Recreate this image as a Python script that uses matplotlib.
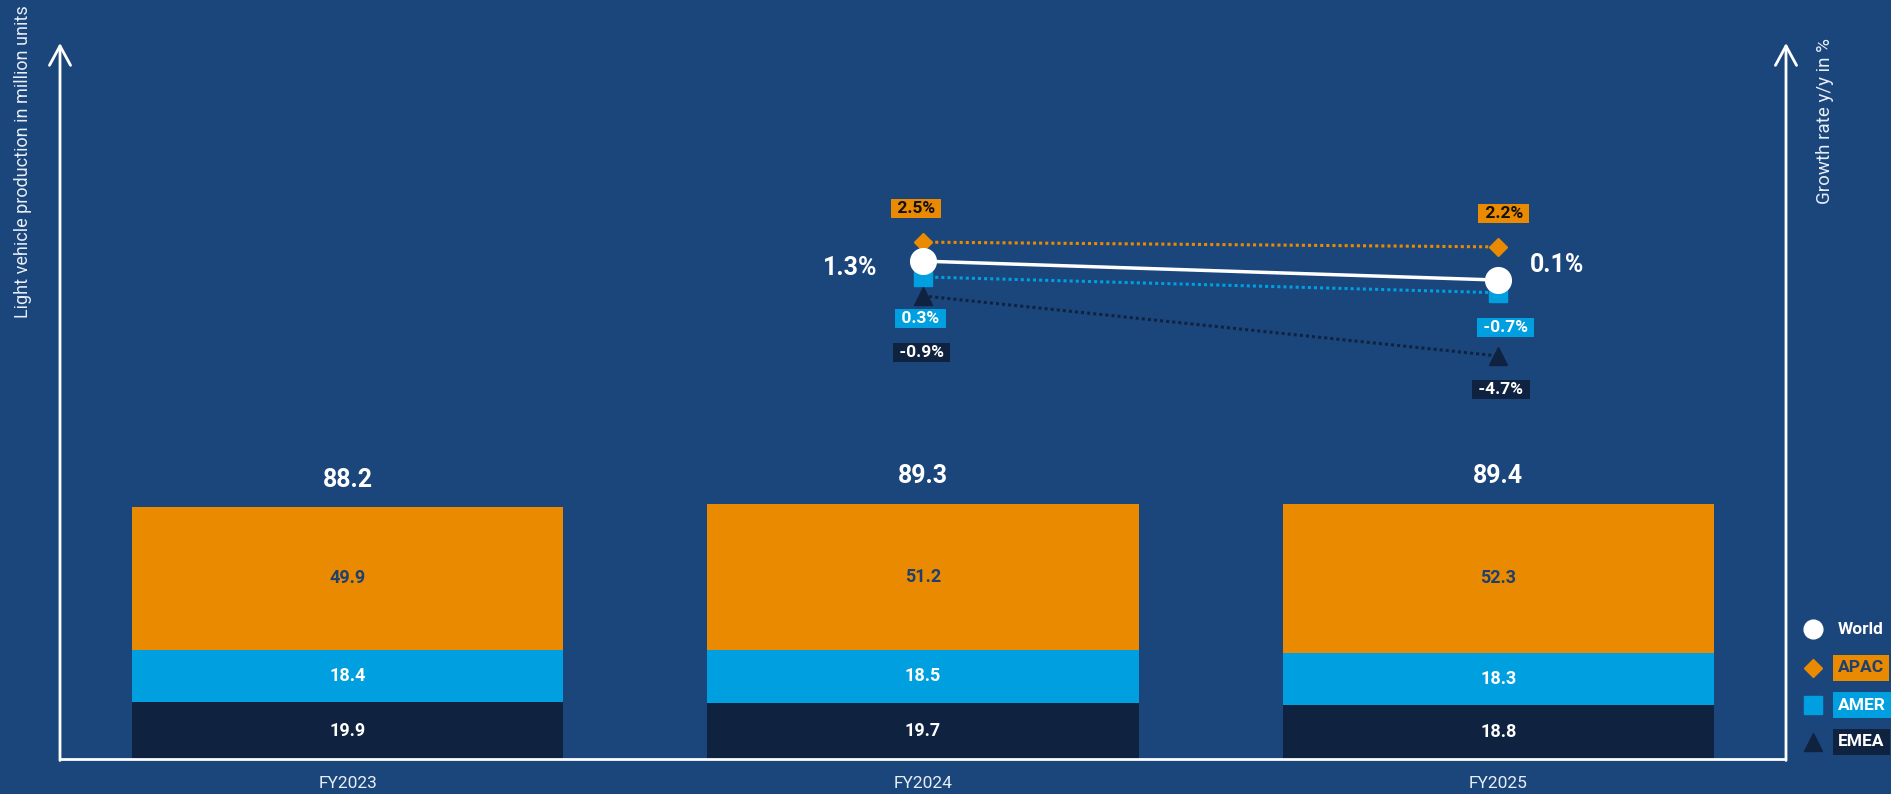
import numpy as np
import matplotlib.pyplot as plt
from matplotlib.lines import Line2D

# production by region, million units
years = ["FY2023", "FY2024", "FY2025"]
emea = [19.9, 19.7, 18.8]
amer = [18.4, 18.5, 18.3]
apac = [49.9, 51.2, 52.3]
totals = [88.2, 89.3, 89.4]

# growth y/y in %, FY2024 and FY2025 only
growth_x = [1, 2]
world_growth = [1.3, 0.1]
apac_growth = [2.5, 2.2]
amer_growth = [0.3, -0.7]
emea_growth = [-0.9, -4.7]

BG = "#1b467c"
ORANGE = "#e98a00"
LIGHTBLUE = "#009fdf"
NAVY = "#0f2340"
DARKTEXT = "#1f3f6e"

plt.rcParams["font.family"] = ["Roboto", "DejaVu Sans"]

W, H = 1891, 794
fig = plt.figure(figsize=(W / 100, H / 100), dpi=100, facecolor=BG)


def fx(px):
    return px / W


def fy(py):
    return 1 - py / H


ax = fig.add_axes([fx(60), fy(759), fx(1786) - fx(60), fy(43) - fy(759)])
ax.set_facecolor("none")

x = np.arange(len(years))
bw = 0.75
b1 = ax.bar(x, emea, bw, color=NAVY)
b2 = ax.bar(x, amer, bw, bottom=emea, color=LIGHTBLUE)
b3 = ax.bar(x, apac, bw, bottom=np.add(emea, amer), color=ORANGE)
ax.set_xlim(-0.5, 2.5)
ax.set_ylim(0, 250.6)

ax.bar_label(b1, labels=[f"{v:.1f}" for v in emea], label_type="center",
             color="white", fontsize=13, fontweight="bold")
ax.bar_label(b2, labels=[f"{v:.1f}" for v in amer], label_type="center",
             color="white", fontsize=13, fontweight="bold")
ax.bar_label(b3, labels=[f"{v:.1f}" for v in apac], label_type="center",
             color=DARKTEXT, fontsize=13, fontweight="bold")
ax.bar_label(b3, labels=[f"{v:.1f}" for v in totals], padding=11,
             color="white", fontsize=18, fontweight="bold")

ax.set_xticks(x, years)
ax.set_yticks([])
ax.tick_params(axis="x", length=0, colors="#e8eef6", labelsize=12.5, pad=12)
for s in ax.spines.values():
    s.set_visible(False)

# axes lines with open arrow heads
arrow = dict(arrowstyle="->,head_length=0.7,head_width=0.38", color="white",
             lw=2, mutation_scale=20, shrinkA=0, shrinkB=0)
ax.annotate("", xy=(0, 1), xytext=(0, -0.002), xycoords="axes fraction",
            arrowprops=arrow, annotation_clip=False)
ax.annotate("", xy=(1, 1), xytext=(1, -0.002), xycoords="axes fraction",
            arrowprops=arrow, annotation_clip=False)
ax.plot([0, 1], [0, 0], transform=ax.transAxes, color="white", lw=2,
        clip_on=False, solid_capstyle="butt")

# growth rates on a second scale
ax2 = ax.twinx()
ax2.set_ylim(-30.2, 15.1)
ax2.set_yticks([])
for s in ax2.spines.values():
    s.set_visible(False)

ax2.plot(growth_x, apac_growth, color=ORANGE, ls=(0, (1, 1)), lw=2.2,
         marker="D", ms=9.5, zorder=3)
ax2.plot(growth_x, amer_growth, color=LIGHTBLUE, ls=(0, (1, 1)), lw=2.2,
         marker="s", ms=13, zorder=3)
ax2.plot(growth_x, emea_growth, color=NAVY, ls=(0, (1, 1)), lw=2.2,
         marker="^", ms=13.5, zorder=3)
ax2.plot(growth_x, world_growth, color="white", lw=2.5,
         marker="o", ms=18.5, zorder=4)

label_specs = [
    (apac_growth, ORANGE, "#111111", [(-5, 24), (4, 24)]),
    (amer_growth, LIGHTBLUE, "white", [(-2, -30), (5, -25)]),
    (emea_growth, NAVY, "white", [(-1, -41), (2, -24)]),
]
for vals, box, txt, offs in label_specs:
    for gx, v, off in zip(growth_x, vals, offs):
        ax2.annotate(f" {v:.1f}% ", (gx, v), xytext=off,
                     textcoords="offset points", ha="center", va="center",
                     fontsize=12.5, fontweight="bold", color=txt,
                     bbox=dict(boxstyle="square,pad=0.12", fc=box, ec="none"))

ax2.annotate(f"{world_growth[0]:.1f}%", (growth_x[0], world_growth[0]),
             xytext=(-33, -5), textcoords="offset points", ha="right",
             va="center", fontsize=18, fontweight="bold", color="white")
ax2.annotate(f"{world_growth[1]:.1f}%", (growth_x[1], world_growth[1]),
             xytext=(23, 11), textcoords="offset points", ha="left",
             va="center", fontsize=18, fontweight="bold", color="white")

# axis titles
fig.text(fx(23), fy(5), "Light vehicle production in million units",
         rotation=90, ha="center", va="top", fontsize=13, color="#e8eef6")
fig.text(fx(1825), fy(38), "Growth rate y/y in %", rotation=90, ha="center",
         va="top", fontsize=13.5, color="#e8eef6")

# legend
legend_items = [
    ("World", "o", "white", None, "white"),
    ("APAC", "D", ORANGE, ORANGE, DARKTEXT),
    ("AMER", "s", LIGHTBLUE, LIGHTBLUE, "white"),
    ("EMEA", "^", NAVY, NAVY, "white"),
]
legend_y = [629, 668, 705, 742]
legend_ms = {"o": 13.5, "D": 9.5, "s": 13.5, "^": 13.5}
for (name, mk, mc, box, tc), py in zip(legend_items, legend_y):
    fig.add_artist(Line2D([fx(1813)], [fy(py)], transform=fig.transFigure,
                          marker=mk, ms=legend_ms[mk], color=mc, ls="none"))
    bb = None
    if box:
        bb = dict(boxstyle="square,pad=0.3", fc=box, ec="none")
    fig.text(fx(1838), fy(py), name, ha="left", va="center", fontsize=12.5,
             fontweight="bold", color=tc, bbox=bb)

fig.savefig("out.png", dpi=100, facecolor=BG)
